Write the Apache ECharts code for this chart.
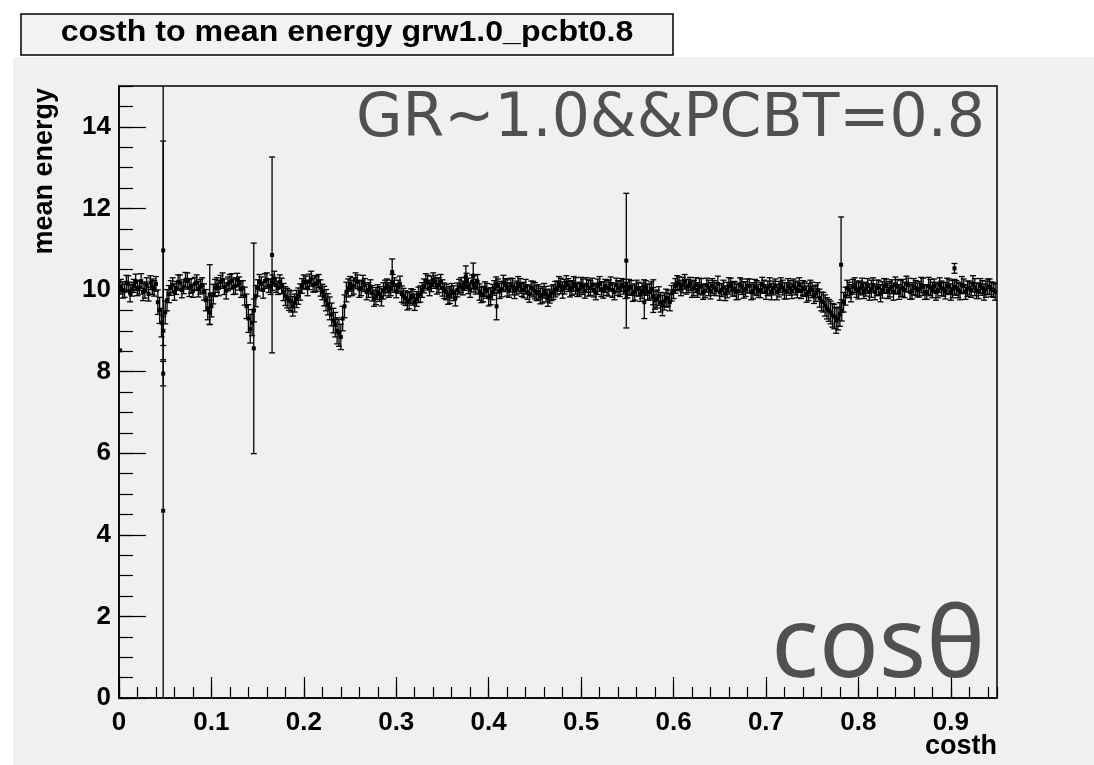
<!DOCTYPE html>
<html>
<head>
<meta charset="utf-8">
<script src="https://cdn.jsdelivr.net/npm/echarts@6/dist/echarts.min.js"></script>
<style>
html,body{margin:0;padding:0;background:#fff;}
#c{width:1094px;height:765px;}
</style>
</head>
<body>
<div id="c"></div>
<script>
// ---- data ----
const titleText = 'costh to mean energy grw1.0_pcbt0.8';
const xName = 'costh';
const yName = 'mean energy';
const overlayText1 = 'GR~1.0&&PCBT=0.8';
const overlayText2 = 'cos\u03b8';
const xTicks = [0, 0.1, 0.2, 0.3, 0.4, 0.5, 0.6, 0.7, 0.8, 0.9];
const yTicks = [0, 2, 4, 6, 8, 10, 12, 14];
// bin centres: set A at 0.002 + 0.004*i, set B at 0.004 + 0.004*i
const binStartA = 0.002, binStartB = 0.004, binStep = 0.004;
const meanValuesA = [
  10.08, 9.98, 10.15, 10.02, 10.2, 10.06, 9.95, 10.12, 10.18, 10.04,
  9.7, 9.2, 9.45,
  9.9, 10.12, 10.05, 10.18, 10.08, 10.22, 10.1, 10.15, 10.02, 10.12,
  9.75, 9.45, 9.9,
  10.12, 10.2, 10.08, 10.15, 10.22, 10.1, 10.16, 10.05,
  9.6, 9.05, 9.5,
  10.05, 10.15, 10.22, 10.1, 10.18, 10.12, 10.2,
  9.95, 9.8, 9.72, 9.68, 9.85,
  10.1, 10.18, 10.2, 10.12, 10.15, 10.05,
  9.85, 9.65, 9.4, 9.15, 8.95, 9.3, 9.95,
  10.15, 10.1, 10.2, 10.05, 10.12, 10.0,
  9.92, 9.85, 9.9, 9.98,
  10.1, 10.05, 10.12, 10.08,
  9.9, 9.8, 9.75, 9.82, 9.78, 9.9,
  10.1, 10.18, 10.15, 10.2, 10.12, 10.05,
  9.95, 9.88, 9.92, 10.0,
  10.12, 10.15, 10.1, 10.2, 10.08,
  9.95, 9.9, 9.98, 9.85,
  10.05, 10.1, 10.02, 10.12, 10.0, 10.08, 10.05, 10.1,
  10.0, 9.95, 10.05, 9.98,
  9.95, 9.88, 9.9, 9.85, 9.95,
  10.05, 10.1, 10.08, 10.12, 10.05, 10.1, 10.02, 10.08, 10.12,
  10.05, 10.0, 10.08, 10.02, 10.1, 10.05, 10.0, 10.12, 10.03, 10.08,
  10.0, 10.05, 9.95, 10.02, 9.98, 10.05, 9.95,
  9.85, 9.78, 9.7, 9.72, 9.8, 9.92,
  10.1, 10.15, 10.12, 10.08, 10.15, 10.05,
  10.0, 10.08, 9.98, 10.05, 10.1, 10.02, 9.95, 10.06, 10.0, 10.12,
  10.03, 9.97, 10.08, 10.02, 10.1, 9.98, 10.05, 10.0, 10.08, 10.04,
  9.96, 10.1, 10.02, 10.06, 9.98, 10.05, 10.1, 10.0,
  9.98, 10.02, 9.95, 10.0, 9.92,
  9.8, 9.7, 9.55, 9.45, 9.35, 9.3, 9.5,
  9.85, 10.0, 10.08, 10.02, 10.05, 9.98, 10.1, 10.03, 9.95, 10.06,
  10.0, 10.1, 10.02, 9.96, 10.08, 10.04, 10.0, 10.12, 9.98, 10.05,
  10.02, 10.08, 9.95, 10.06, 10.1, 10.0, 10.04, 9.98, 10.08, 10.02,
  10.05, 9.96, 10.1, 10.03, 10.0, 10.07, 9.98, 10.05, 10.02, 10.08,
  10.0
];
const meanErrorsA = [
  0.18,0.16,0.2,0.17,0.19,0.16,0.21,0.18,0.17,0.19,
  0.3,0.35,0.28,
  0.21,0.18,0.16,0.19,0.17,0.2,0.18,0.16,0.19,0.18,
  0.26,0.3,0.24,
  0.18,0.16,0.19,0.17,0.18,0.2,0.16,0.18,
  0.3,0.35,0.28,
  0.2,0.17,0.18,0.16,0.19,0.18,0.17,
  0.21,0.24,0.26,0.22,0.2,
  0.18,0.16,0.19,0.17,0.18,0.2,
  0.24,0.26,0.28,0.3,0.33,0.3,0.24,
  0.18,0.2,0.17,0.19,0.16,0.18,
  0.19,0.21,0.18,0.2,
  0.17,0.19,0.18,0.16,
  0.2,0.18,0.21,0.19,0.18,0.2,
  0.17,0.18,0.19,0.16,0.18,0.2,
  0.19,0.21,0.18,0.17,
  0.18,0.16,0.19,0.17,0.18,
  0.2,0.19,0.18,0.21,
  0.18,0.17,0.19,0.16,0.18,0.2,0.17,0.18,
  0.19,0.18,0.17,0.2,
  0.18,0.2,0.19,0.17,0.18,
  0.17,0.19,0.18,0.16,0.18,0.2,0.17,0.19,0.18,
  0.18,0.17,0.19,0.18,0.16,0.2,0.18,0.17,0.19,0.18,
  0.19,0.18,0.2,0.17,0.19,0.18,0.2,
  0.21,0.22,0.24,0.21,0.2,0.19,
  0.18,0.17,0.19,0.18,0.16,0.19,
  0.18,0.2,0.17,0.19,0.18,0.16,0.2,0.18,0.19,0.17,
  0.18,0.2,0.19,0.18,0.17,0.2,0.18,0.19,0.16,0.18,
  0.2,0.17,0.19,0.18,0.2,0.18,0.17,0.19,
  0.19,0.18,0.21,0.19,0.2,
  0.22,0.24,0.26,0.28,0.3,0.28,0.26,
  0.22,0.19,0.18,0.2,0.17,0.19,0.18,0.21,0.19,0.18,
  0.2,0.17,0.19,0.21,0.18,0.2,0.19,0.17,0.2,0.18,
  0.19,0.21,0.18,0.2,0.17,0.19,0.18,0.2,0.19,0.21,
  0.18,0.2,0.17,0.19,0.18,0.21,0.19,0.18,0.2,0.19,
  0.18
];
const meanValuesB = [
  10.0, 10.18, 9.92, 10.1, 10.05, 10.22, 10.0, 9.9, 10.08, 10.15,
  9.5, 9.0, 9.75,
  10.05, 9.95, 10.2, 10.0, 10.25, 10.05, 9.98, 10.18, 10.08, 9.95,
  9.55, 9.6, 10.05,
  10.05, 10.25, 9.98, 10.2, 10.08, 10.25, 10.02, 9.85,
  9.3, 9.2, 9.85,
  10.2, 10.0, 10.25, 10.08, 10.28, 10.05, 10.1,
  9.85, 9.75, 9.6, 9.78, 9.95,
  10.2, 10.05, 10.28, 10.15, 10.22, 9.95,
  9.75, 9.55, 9.25, 9.0, 8.85, 9.6, 10.05,
  10.05, 10.25, 10.02, 10.18, 9.95, 10.08,
  9.8, 9.95, 9.82, 10.05,
  10.0, 10.18, 9.98, 10.15,
  9.85, 9.72, 9.85, 9.7, 9.88, 10.0,
  10.22, 10.05, 10.25, 10.1, 10.2, 9.98,
  9.85, 9.98, 9.8, 10.08,
  10.05, 10.22, 10.0, 10.15, 10.2,
  9.88, 10.02, 9.82, 9.95,
  10.15, 9.98, 10.18, 10.05, 10.12, 9.98, 10.15, 10.0,
  10.08, 9.9, 10.02, 9.92,
  9.85, 9.98, 9.8, 9.92, 10.02,
  10.15, 10.0, 10.18, 10.02, 10.15, 10.0, 10.12, 9.98, 10.05,
  10.12, 9.95, 10.15, 10.0, 10.05, 10.15, 9.95, 10.05, 10.12, 9.98,
  10.08, 9.92, 10.05, 9.9, 10.08, 9.95, 10.0,
  9.75, 9.85, 9.62, 9.8, 9.7, 9.98,
  10.18, 10.05, 10.2, 10.1, 10.02, 10.12,
  10.1, 9.95, 10.12, 9.98, 10.05, 10.15, 10.0, 9.92, 10.1, 10.02,
  9.95, 10.12, 10.0, 10.1, 9.95, 10.08, 9.98, 10.12, 9.95, 10.1,
  10.05, 9.95, 10.12, 9.98, 10.1, 9.98, 10.05, 10.12,
  10.05, 9.9, 10.05, 9.88, 10.0,
  9.72, 9.62, 9.5, 9.38, 9.25, 9.4, 9.7,
  10.05, 9.92, 10.12, 9.98, 10.1, 10.02, 9.95, 10.12, 10.05, 9.92,
  10.1, 9.98, 10.08, 10.12, 9.95, 10.05, 10.15, 9.95, 10.08, 10.0,
  10.12, 9.95, 10.1, 10.0, 9.95, 10.12, 10.02, 10.1, 9.95, 10.08,
  10.0, 10.12, 9.95, 10.05, 10.15, 9.98, 10.1, 9.95, 10.08, 10.02,
  9.95
];
const meanErrorsB = [
  0.2,0.18,0.21,0.16,0.19,0.18,0.2,0.17,0.19,0.18,
  0.32,0.36,0.26,
  0.18,0.2,0.17,0.19,0.18,0.21,0.16,0.19,0.18,0.2,
  0.28,0.26,0.21,
  0.19,0.17,0.2,0.18,0.19,0.16,0.2,0.22,
  0.34,0.32,0.26,
  0.18,0.2,0.17,0.19,0.18,0.16,0.19,
  0.23,0.25,0.24,0.21,0.2,
  0.17,0.19,0.18,0.2,0.16,0.19,
  0.26,0.28,0.3,0.32,0.31,0.28,0.22,
  0.19,0.17,0.2,0.18,0.19,0.17,
  0.2,0.18,0.21,0.19,
  0.18,0.2,0.17,0.19,
  0.19,0.21,0.18,0.2,0.19,0.18,
  0.18,0.19,0.17,0.2,0.18,0.19,
  0.2,0.18,0.19,0.18,
  0.17,0.19,0.18,0.2,0.18,
  0.19,0.18,0.21,0.19,
  0.17,0.19,0.18,0.2,0.17,0.19,0.18,0.16,
  0.18,0.2,0.19,0.18,
  0.19,0.18,0.2,0.18,0.19,
  0.18,0.2,0.17,0.19,0.18,0.16,0.19,0.18,0.2,
  0.17,0.19,0.18,0.2,0.18,0.17,0.19,0.18,0.16,0.19,
  0.18,0.2,0.19,0.18,0.17,0.19,0.2,
  0.22,0.23,0.25,0.22,0.21,0.19,
  0.17,0.19,0.18,0.16,0.2,0.18,
  0.19,0.18,0.17,0.2,0.18,0.19,0.16,0.18,0.2,0.17,
  0.19,0.18,0.2,0.17,0.19,0.18,0.16,0.19,0.18,0.2,
  0.17,0.19,0.18,0.2,0.18,0.19,0.17,0.18,
  0.18,0.2,0.19,0.21,0.18,
  0.23,0.26,0.27,0.29,0.31,0.29,0.24,
  0.19,0.21,0.18,0.2,0.19,0.17,0.2,0.18,0.19,0.21,
  0.18,0.19,0.17,0.2,0.18,0.21,0.19,0.18,0.2,0.17,
  0.19,0.18,0.21,0.19,0.2,0.18,0.17,0.19,0.2,0.18,
  0.19,0.21,0.18,0.17,0.2,0.19,0.18,0.2,0.19,0.18,
  0.2
];
// sparse bins with large errors
const outlierX   = [0.0012, 0.0478, 0.0478, 0.0478, 0.0982, 0.1458, 0.1656, 0.2956, 0.3753, 0.3833, 0.4085, 0.5489, 0.5684, 0.5781, 0.7813, 0.904];
const outlierY   = [8.52,   4.59,   10.97,  7.95,   9.89,   8.57,   10.86,  10.44,  10.33,  10.35,  9.6,    10.72,  9.7,    9.85,   10.62,  10.53];
const outlierErr = [0.0,    11.0,   2.68,   0.3,    0.73,   2.58,   2.4,    0.32,   0.26,   0.31,   0.33,   1.65,   0.4,    0.4,    1.17,   0.12];

// ---- build ----
const points = [];
for (let i = 0; i < meanValuesA.length; i++) points.push([binStartA + binStep * i, meanValuesA[i], meanErrorsA[i]]);
for (let i = 0; i < meanValuesB.length; i++) points.push([binStartB + binStep * i, meanValuesB[i], meanErrorsB[i]]);
for (let i = 0; i < outlierX.length; i++) points.push([outlierX[i], outlierY[i], outlierErr[i]]);

const chart = echarts.init(document.getElementById('c'), null, {renderer: 'canvas'});
const FONT = '"Liberation Sans", Arial, Helvetica, sans-serif';
const BG = '#f0f0f0';

function renderErr(params, api) {
  const x = api.value(0), y = api.value(1), e = api.value(2);
  const pc = api.coord([x, y]);
  const pt = api.coord([x, y + e]);
  const pb = api.coord([x, y - e]);
  const cw = 3;
  const st = {stroke: '#000', lineWidth: 1.3};
  const ch = [];
  if (e > 0) {
    ch.push({type: 'line', shape: {x1: pc[0], y1: pt[1], x2: pc[0], y2: pb[1]}, style: st});
    ch.push({type: 'line', shape: {x1: pc[0] - cw, y1: pt[1], x2: pc[0] + cw, y2: pt[1]}, style: st});
    ch.push({type: 'line', shape: {x1: pc[0] - cw, y1: pb[1], x2: pc[0] + cw, y2: pb[1]}, style: st});
  }
  ch.push({type: 'rect', shape: {x: pc[0] - 2, y: pc[1] - 2, width: 4, height: 4}, style: {fill: '#000'}});
  return {type: 'group', children: ch};
}

const axisLabelStyle = {color: '#000', fontFamily: FONT, fontWeight: 'bold', fontSize: 26};

const option = {
  backgroundColor: '#ffffff',
  animation: false,
  grid: {left: 119, right: 97, top: 86, bottom: 67, show: true, borderColor: '#000', borderWidth: 1.5, backgroundColor: BG},
  xAxis: [
    {type: 'value', min: 0, max: 0.95, interval: 0.1, position: 'bottom',
     axisLine: {show: true, lineStyle: {color: '#000', width: 1.5}},
     axisTick: {show: true, inside: true, length: 21, lineStyle: {color: '#000', width: 1.2}},
     axisLabel: Object.assign({margin: 12, showMaxLabel: false,
       formatter: v => (xTicks.some(t => Math.abs(t - v) < 1e-9) ? (v === 0 ? '0' : v.toFixed(1)) : '')}, axisLabelStyle),
     splitLine: {show: false}},
    {type: 'value', min: 0, max: 0.95, interval: 0.02, position: 'bottom', gridIndex: 0,
     axisLine: {show: false},
     axisTick: {show: true, inside: true, length: 11, lineStyle: {color: '#000', width: 1.2}},
     axisLabel: {show: false}, splitLine: {show: false}}
  ],
  yAxis: [
    {type: 'value', min: 0, max: 15, interval: 2, position: 'left',
     axisLine: {show: true, lineStyle: {color: '#000', width: 1.5}},
     axisTick: {show: true, inside: true, length: 27, lineStyle: {color: '#000', width: 1.2}},
     axisLabel: Object.assign({margin: 8, showMaxLabel: false,
       formatter: v => (yTicks.indexOf(v) >= 0 ? String(v) : '')}, axisLabelStyle),
     splitLine: {show: false}},
    {type: 'value', min: 0, max: 15, interval: 0.5, position: 'left', gridIndex: 0,
     axisLine: {show: false},
     axisTick: {show: true, inside: true, length: 14, lineStyle: {color: '#000', width: 1.2}},
     axisLabel: {show: false}, splitLine: {show: false}}
  ],
  graphic: [
    {type: 'rect', z: -100, shape: {x: 13, y: 57, width: 1081, height: 708}, style: {fill: BG}, silent: true},
    {type: 'rect', shape: {x: 21, y: 14, width: 652, height: 41}, style: {fill: '#f2f2f2', stroke: '#000', lineWidth: 1.5}},
    {type: 'text', x: 347, y: 33, scaleX: 1.07, style: {text: titleText, fill: '#000', font: 'bold 30px ' + FONT, textAlign: 'center', textVerticalAlign: 'middle'}},
    {type: 'text', x: 45, y: 88, rotation: Math.PI / 2, style: {text: yName, fill: '#000', font: 'bold 27px ' + FONT, textAlign: 'right', textVerticalAlign: 'middle'}},
    {type: 'text', x: 997, y: 747, style: {text: xName, fill: '#000', font: 'bold 27px ' + FONT, textAlign: 'right', textVerticalAlign: 'middle'}},
    {type: 'text', x: 985, y: 120, z: 10, style: {text: overlayText1, fill: '#505050', font: '60px "DejaVu Sans", sans-serif', textAlign: 'right', textVerticalAlign: 'middle'}},
    {type: 'text', x: 985, y: 649, z: 10, style: {text: overlayText2, fill: '#505050', font: '99px "Noto Sans", sans-serif', textAlign: 'right', textVerticalAlign: 'middle'}}
  ],
  series: [
    {type: 'custom', xAxisIndex: 0, yAxisIndex: 0, clip: true, renderItem: renderErr,
     encode: {x: 0, y: 1}, data: points, z: 5}
  ]
};
chart.setOption(option);
</script>
</body>
</html>
